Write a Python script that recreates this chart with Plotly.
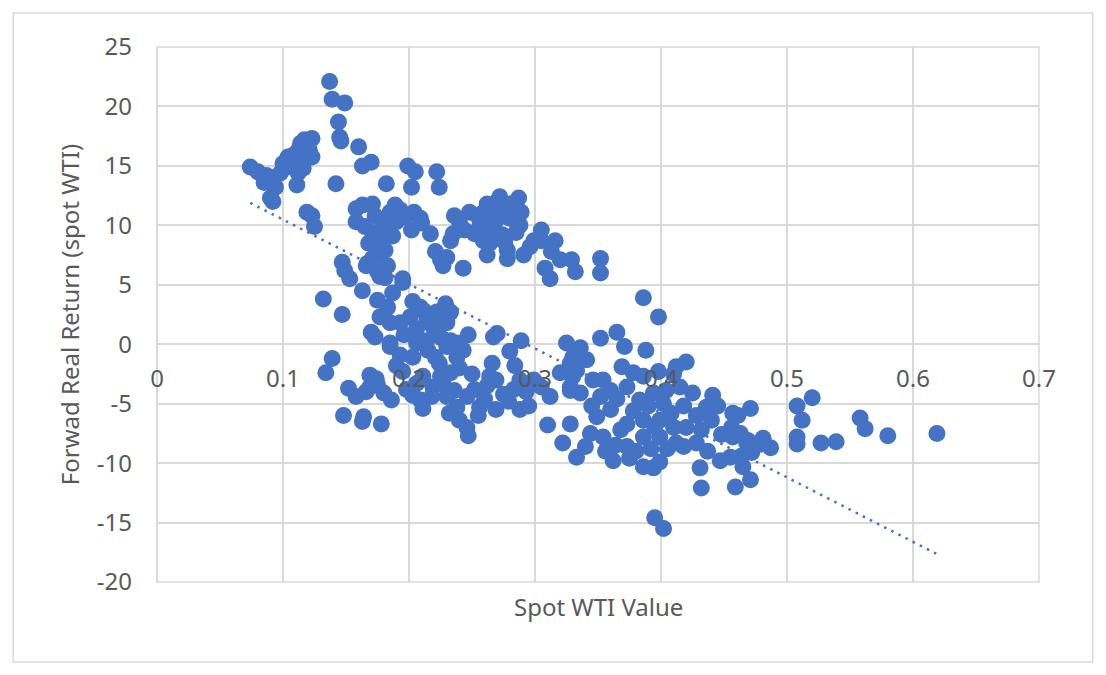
import numpy as np
import plotly.graph_objects as go

# values (spot WTI value, forward real return)
spot_wti = [
    # upper-left group
    0.074, 0.080, 0.087, 0.092, 0.085, 0.090, 0.092, 0.094, 0.098, 0.100,
    0.104, 0.103, 0.108, 0.112, 0.112, 0.111, 0.116, 0.117, 0.123, 0.121,
    0.123, 0.117, 0.112, 0.119, 0.123, 0.125, 0.106, 0.120, 0.114,
    0.137, 0.139, 0.149, 0.144, 0.145, 0.146, 0.160, 0.163, 0.170, 0.142,
    0.182, 0.199, 0.205, 0.202, 0.222, 0.224,
    # 0.15-0.21, upper band
    0.158, 0.163, 0.158, 0.165, 0.171, 0.173, 0.171, 0.175, 0.179, 0.185,
    0.189, 0.193, 0.190, 0.187, 0.181, 0.177, 0.171, 0.167, 0.183, 0.175,
    0.181, 0.197, 0.202, 0.209, 0.204, 0.217, 0.163, 0.153, 0.147, 0.149,
    0.195, 0.166, 0.177, 0.168, 0.178, 0.184,
    # 0.21-0.35, upper band
    0.210, 0.221, 0.225, 0.227, 0.230, 0.233, 0.235, 0.240, 0.248, 0.243,
    0.262, 0.272, 0.287, 0.289, 0.288, 0.285, 0.280, 0.275, 0.269, 0.266,
    0.262, 0.256, 0.252, 0.255, 0.259, 0.264, 0.269, 0.276, 0.278, 0.262,
    0.278, 0.274, 0.291, 0.296, 0.299, 0.305, 0.305, 0.316, 0.313, 0.308,
    0.312, 0.320, 0.329, 0.332, 0.352, 0.352, 0.244, 0.236, 0.268, 0.280,
    0.258, 0.270,
    # lower band, 0.13-0.34
    0.132, 0.147, 0.139, 0.134, 0.175, 0.183, 0.177, 0.187, 0.195, 0.203,
    0.201, 0.193, 0.185, 0.170, 0.173, 0.185, 0.193, 0.190, 0.195, 0.206,
    0.214, 0.222, 0.229, 0.233, 0.230, 0.222, 0.214, 0.206, 0.203, 0.221,
    0.230, 0.238, 0.243, 0.238, 0.233, 0.225, 0.219, 0.206, 0.209, 0.211,
    0.218, 0.247, 0.267, 0.266, 0.264,
    0.152, 0.158, 0.169, 0.174, 0.169, 0.180, 0.186, 0.166, 0.148, 0.164,
    0.163, 0.178, 0.175,
    0.238, 0.240, 0.246, 0.247, 0.230,
    0.270, 0.289, 0.280, 0.284, 0.269, 0.288, 0.299, 0.312, 0.288, 0.279,
    0.269, 0.256, 0.246, 0.236, 0.227, 0.211,
    0.233, 0.224, 0.185, 0.219, 0.230, 0.209,
    0.310, 0.322, 0.328, 0.333, 0.325, 0.330, 0.320, 0.328, 0.333,
    0.252, 0.260, 0.275, 0.283, 0.293, 0.295, 0.305, 0.262, 0.250, 0.215,
    0.196, 0.212, 0.226, 0.240, 0.255, 0.232, 0.198, 0.203,
    # lower band, 0.33-0.45
    0.386, 0.398, 0.365, 0.352, 0.371, 0.388, 0.336, 0.341, 0.328, 0.330,
    0.328, 0.336, 0.346, 0.354, 0.369, 0.378, 0.386, 0.398, 0.412, 0.420,
    0.352, 0.360, 0.373, 0.383, 0.394, 0.404, 0.415, 0.425, 0.441, 0.436,
    0.349, 0.344, 0.354, 0.362, 0.373, 0.375, 0.386, 0.394, 0.399, 0.386,
    0.399, 0.412, 0.373, 0.386, 0.399, 0.410, 0.420, 0.428, 0.431, 0.440,
    0.457, 0.471, 0.456, 0.457, 0.468, 0.455, 0.465, 0.447, 0.437,
    0.360, 0.368, 0.378, 0.390, 0.402, 0.408, 0.418, 0.428, 0.364, 0.380,
    0.392, 0.405, 0.418, 0.345, 0.340, 0.356, 0.365, 0.395, 0.432, 0.448,
    0.445, 0.410,
    # lower right
    0.432, 0.459, 0.471, 0.464, 0.472, 0.479, 0.487, 0.469, 0.461, 0.463,
    0.481,
    0.508, 0.520, 0.512, 0.508, 0.508, 0.527, 0.539, 0.558, 0.562, 0.580,
    0.619,
    0.395, 0.402,
]

fwd_return = [
    14.9, 14.5, 14.2, 14.0, 13.6, 12.3, 12.0, 13.2, 14.4, 15.2,
    15.75, 14.9, 15.9, 15.5, 14.4, 13.4, 14.8, 17.2, 17.3, 16.3,
    15.75, 15.5, 16.3, 11.1, 10.8, 9.9, 15.3, 16.8, 16.9,
    22.1, 20.6, 20.3, 18.7, 17.4, 17.1, 16.6, 15.0, 15.3, 13.5,
    13.5, 15.0, 14.5, 13.2, 14.5, 13.2,
    11.4, 11.7, 10.3, 9.9, 11.8, 10.8, 9.4, 8.9, 9.8, 11.1,
    11.7, 11.3, 10.3, 9.1, 7.9, 7.5, 7.2, 6.8, 6.6, 6.1,
    5.6, 10.7, 9.6, 10.6, 11.1, 9.3, 4.5, 5.5, 6.9, 6.2,
    5.2, 6.6, 5.7, 8.5, 8.2, 10.4,
    10.2, 7.8, 7.1, 6.6, 7.3, 8.7, 9.3, 10.3, 11.1, 6.4,
    11.8, 12.4, 12.3, 11.1, 10.0, 9.4, 10.6, 11.3, 10.4, 9.9,
    9.6, 9.9, 9.3, 10.7, 8.7, 8.5, 8.9, 8.6, 7.9, 7.5,
    7.2, 9.2, 7.5, 8.2, 8.7, 9.6, 8.7, 8.7, 7.8, 6.4,
    5.5, 7.1, 7.1, 6.1, 7.2, 6.0, 9.6, 10.8, 11.5, 11.8,
    11.0, 12.0,
    3.8, 2.5, -1.2, -2.4, 3.7, 3.1, 2.3, 4.3, 5.5, 3.6,
    2.3, 1.8, 1.8, 1.0, 0.6, -0.2, -0.9, -1.8, -2.3, 1.3,
    1.9, 2.7, 3.4, 2.7, 1.8, 0.9, 0.3, 0.1, -1.1, -1.1,
    -0.2, 0.1, -0.5, -1.1, -2.4, -2.7, -3.6, -3.3, -4.7, -5.4,
    -4.4, 0.8, 0.6, -1.6, -2.7,
    -3.7, -4.4, -2.6, -2.9, -3.6, -4.1, -4.7, -4.0, -6.0, -6.1,
    -6.5, -6.7, -3.4,
    -5.3, -6.4, -7.0, -7.7, -4.4,
    0.9, 0.3, -0.6, -1.8, -3.0, -3.0, -3.0, -4.4, -5.5, -4.8,
    -5.5, -5.3, -4.4, -3.9, -3.3, -2.7,
    0.3, -1.6, 0.1, 1.5, 2.0, 3.1,
    -6.8, -8.3, -6.7, -9.5, 0.1, -1.1, -2.4, -3.6, -2.2,
    -3.8, -4.6, -4.2, -3.8, -4.0, -5.2, -3.6, -3.5, -2.5, -0.5,
    0.8, 2.8, 0.5, -2.0, -6.0, -5.8, -3.8, -4.3,
    3.9, 2.3, 1.0, 0.5, -0.2, -0.5, -0.3, -1.3, -1.6, -2.7,
    -3.9, -4.1, -3.0, -3.0, -1.9, -2.4, -2.7, -2.3, -1.9, -1.5,
    -4.4, -3.9, -3.6, -4.7, -4.1, -3.9, -3.6, -4.1, -4.3, -5.3,
    -6.1, -7.5, -7.8, -9.8, -8.6, -9.6, -10.3, -10.4, -9.9, -7.8,
    -7.8, -8.3, -6.7, -6.4, -6.4, -7.0, -7.0, -8.3, -10.4, -6.4,
    -5.8, -5.4, -7.0, -7.8, -8.3, -9.5, -10.3, -9.8, -9.0,
    -5.5, -7.2, -5.6, -5.2, -5.0, -5.8, -5.2, -6.0, -8.5, -9.0,
    -8.8, -8.8, -8.6, -5.2, -8.6, -9.0, -4.6, -6.9, -7.2, -7.6,
    -5.2, -2.5,
    -12.1, -12.0, -11.4, -9.4, -9.1, -8.4, -8.7, -8.1, -6.0, -7.5,
    -7.9,
    -5.2, -4.5, -6.4, -7.8, -8.4, -8.3, -8.2, -6.2, -7.1, -7.7,
    -7.5,
    -14.6, -15.5,
]

# axis ticks as labelled in the reference (plain hyphen minus)
x_ticks = [0, 0.1, 0.2, 0.3, 0.4, 0.5, 0.6, 0.7]
x_tick_labels = ["0", "0.1", "0.2", "0.3", "0.4", "0.5", "0.6", "0.7"]
y_ticks = [-20, -15, -10, -5, 0, 5, 10, 15, 20, 25]
y_tick_labels = ["-20", "-15", "-10", "-5", "0", "5", "10", "15", "20", "25"]

# linear trendline as drawn in the reference
trend_slope = -54.2
trend_intercept = 15.9

blue = "#4472C4"
grid = "#d9d9d9"
text = "#595959"
font = "'Noto Sans', 'Open Sans', sans-serif"
fsize = 24

x = np.array(spot_wti)
y = np.array(fwd_return)
trend_x = np.array([x.min(), x.max()])
trend_y = trend_intercept + trend_slope * trend_x

fig = go.Figure()

fig.add_trace(
    go.Scatter(
        x=x,
        y=y,
        mode="markers",
        marker=dict(size=17, color=blue, line=dict(width=0)),
        showlegend=False,
    )
)

fig.add_trace(
    go.Scatter(
        x=trend_x,
        y=trend_y,
        mode="lines",
        line=dict(color=blue, width=2.5, dash="2.5px,5.5px"),
        showlegend=False,
    )
)

x_min, x_max = x_ticks[0], x_ticks[-1]
y_min, y_max = y_ticks[0], y_ticks[-1]

# the page body adds 8px on the top and left, so margins are trimmed to match
fig.update_layout(
    width=1106,
    height=675,
    margin=dict(l=149, r=75, t=39, b=101),
    paper_bgcolor="white",
    plot_bgcolor="white",
    font=dict(family=font, size=fsize, color=text),
    shapes=[
        # plot area frame
        dict(type="rect", xref="paper", yref="paper", x0=0, x1=1, y0=0, y1=1,
             line=dict(color=grid, width=1.5), layer="below"),
        # chart area border
        dict(type="rect", xref="paper", yref="paper",
             x0=-0.163, x1=1.061, y0=-0.1495, y1=1.0636,
             line=dict(color=grid, width=1.5), layer="below"),
    ],
    annotations=[
        dict(text="Spot WTI Value", xref="paper", yref="paper", x=0.5, y=-0.045,
             showarrow=False, xanchor="center", yanchor="middle",
             font=dict(size=fsize, color=text)),
    ],
)

fig.update_xaxes(
    range=[x_min, x_max],
    tickvals=x_ticks,
    ticktext=x_tick_labels,
    showgrid=True,
    gridcolor=grid,
    gridwidth=1.5,
    zeroline=True,
    zerolinecolor=grid,
    zerolinewidth=1.5,
    showline=False,
    anchor="free",
    position=(0 - y_min) / (y_max - y_min),
    ticks="",
    ticklabelstandoff=18,
    tickfont=dict(size=fsize, color=text),
)

fig.update_yaxes(
    range=[y_min, y_max],
    tickvals=y_ticks,
    ticktext=y_tick_labels,
    showgrid=True,
    gridcolor=grid,
    gridwidth=1.5,
    zeroline=True,
    zerolinecolor=grid,
    zerolinewidth=1.5,
    showline=False,
    ticks="",
    ticklabelstandoff=24,
    tickfont=dict(size=fsize, color=text),
    title=dict(text="Forwad Real Return (spot WTI)", standoff=10,
               font=dict(size=fsize, color=text)),
)

fig.write_html("out.html")
